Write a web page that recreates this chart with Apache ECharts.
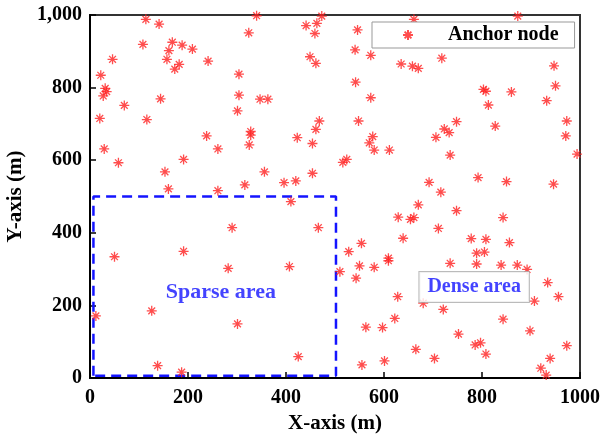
<!DOCTYPE html>
<html><head><meta charset="utf-8">
<script src="https://cdn.jsdelivr.net/npm/echarts@6/dist/echarts.min.js"></script>
<style>html,body{margin:0;padding:0;background:#fff}#c{width:602px;height:436px}</style>
</head><body><div id="c"></div>
<script>
var anchorX = [114,141,324,108,168,188,161,209,46,157,182,173,241,22,304,31,34,27,304,144,70,301,20,116,238,328,328,340,473,661,441,463,459,546,541,573,635,658,670,449,461,542,573,347,363,468,548,461,423,577,873,718,947,950,803,808,860,813,932,748,827,973,723,733,706,971,29,58,261,325,191,153,160,261,316,290,191,50,454,570,580,611,524,516,356,454,396,420,410,670,466,629,654,661,639,554,528,609,994,735,692,716,792,850,946,748,843,711,778,808,856,789,805,282,12,126,301,138,187,407,510,550,580,609,543,628,622,563,597,665,555,601,425,735,789,839,872,892,934,956,907,680,721,843,898,752,786,797,808,973,703,939,920,931];
var anchorY = [988,975,951,919,925,917,902,906,878,878,864,851,873,834,837,798,789,777,779,769,751,736,715,712,667,679,669,998,997,988,971,977,949,959,904,889,865,859,853,885,867,815,772,768,768,708,708,685,662,665,997,881,860,805,795,790,788,752,764,706,694,708,686,676,663,667,631,593,631,642,602,568,521,516,532,414,349,334,646,648,628,628,602,594,568,564,538,543,486,477,414,443,437,442,385,371,348,330,617,614,539,512,552,541,534,461,442,412,384,382,373,344,347,302,171,185,149,34,16,307,293,309,305,323,275,224,164,140,139,79,36,47,59,316,314,311,311,299,263,224,212,206,189,162,130,121,91,97,66,89,54,54,27,8];
var sparseX = [7,7,502,502,7];
var sparseY = [6,500,500,6,6];
var xTicks = [0,200,400,600,800,1000];
var yTicks = ['0','200','400','600','800','1,000'];
var regionLabels = [{name:'Sparse area', x:267, y:237}, {name:'Dense area', x:784, y:251}];

var anchors = anchorX.map(function(x,i){return [x, anchorY[i]];});
var sparse = sparseX.map(function(x,i){return [x, sparseY[i]];});
var star = 'path://M0,5L10,5M5,0L5,10M1.6,1.6L8.4,8.4M8.4,1.6L1.6,8.4';
var F = 'Liberation Serif';
var BLUE = '#1414ff';

var chart = echarts.init(document.getElementById('c'));
chart.setOption({
  animation:false,
  backgroundColor:'#fff',
  grid:{left:90,right:22,top:15,bottom:58,containLabel:false,outerBoundsMode:'none',
    show:true,borderColor:'#333',borderWidth:2},
  legend:{
    data:[{name:'Anchor node', icon: star}],
    left:372, top:22,
    itemWidth:10, itemHeight:10, itemGap:0,
    padding:[3,16,3,30],
    borderColor:'#999', borderWidth:1, backgroundColor:'#fff',
    textStyle:{fontFamily:F, fontWeight:'bold', fontSize:20, color:'#000', padding:[0,0,0,30]}
  },
  xAxis:{
    type:'value', min:0, max:1000, interval:200,
    name:'X-axis (m)', nameLocation:'middle', nameGap:32,
    nameTextStyle:{fontFamily:F, fontWeight:'bold', fontSize:21, color:'#000'},
    axisLine:{lineStyle:{color:'#000', width:2}},
    axisTick:{inside:true, length:6, lineStyle:{color:'#000', width:1.5}},
    axisLabel:{fontFamily:F, fontWeight:'bold', fontSize:20, color:'#000', margin:10,
      formatter:function(v){return String(v);}},
    splitLine:{show:false}
  },
  yAxis:{
    type:'value', min:0, max:1000, interval:200,
    name:'Y-axis (m)', nameLocation:'middle', nameGap:57,
    nameTextStyle:{fontFamily:F, fontWeight:'bold', fontSize:21, color:'#000'},
    axisLine:{show:true, lineStyle:{color:'#000', width:2}},
    axisTick:{show:true, inside:true, length:6, lineStyle:{color:'#000', width:1.5}},
    axisLabel:{fontFamily:F, fontWeight:'bold', fontSize:20, color:'#000', margin:8,
      formatter:function(v){return yTicks[xTicks.indexOf(v)];}},
    splitLine:{show:false}
  },
  series:[
    {
      name:'Sparse region', type:'line', data:sparse, symbol:'none', silent:true, z:1,
      lineStyle:{color:BLUE, width:2.5, type:[10,6]}
    },
    {
      name:'Anchor node', type:'scatter', data:anchors, symbol:star, symbolSize:10, z:3,
      itemStyle:{color:'rgba(0,0,0,0)', borderColor:'#ff2020', borderWidth:1.3}
    },
    {
      name:'labels', type:'scatter', symbolSize:0, z:5, silent:true,
      data:regionLabels.map(function(r,i){return {name:r.name, value:[r.x,r.y],
        label: i===1 ? {fontSize:20, backgroundColor:'#fff', borderColor:'#aaa', borderWidth:1, padding:[5,8,5,8]} : {fontSize:22}};}),
      label:{show:true, position:'inside', formatter:'{b}', fontFamily:F, fontWeight:'bold', color:BLUE}
    }
  ]
});
</script></body></html>
